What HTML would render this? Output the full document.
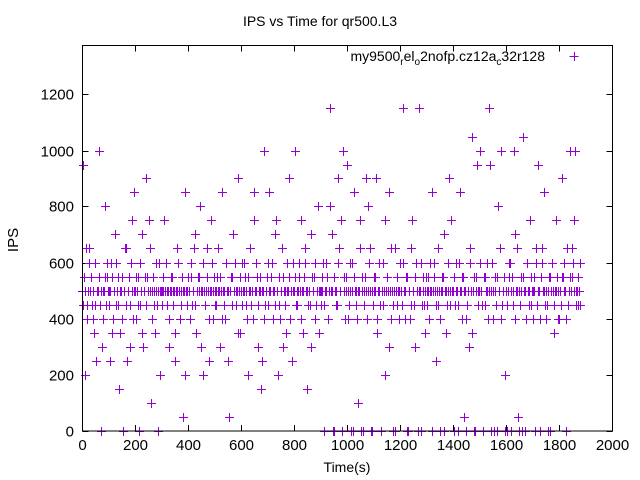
<!DOCTYPE html>
<html><head><meta charset="utf-8"><style>
body{margin:0;background:#fff;}
svg{display:block;font-family:"Liberation Sans",sans-serif;}
</style></head><body>
<svg id="chart" width="640" height="480" viewBox="0 0 640 480" xmlns="http://www.w3.org/2000/svg">
<rect x="0" y="0" width="640" height="480" fill="#fff"/>
<text x="320" y="26" text-anchor="middle" font-size="14" fill="#000">IPS vs Time for qr500.L3</text>
<text x="0" y="0" transform="translate(18,240) rotate(-90)" text-anchor="middle" font-size="15" fill="#000">IPS</text>
<text x="347" y="472" text-anchor="middle" font-size="14" fill="#000">Time(s)</text>
<g id="axes"></g>
<g id="points"></g>
<g>
<text x="545" y="61" text-anchor="end" font-size="14" fill="#000">my9500<tspan font-size="10" dy="4">r</tspan><tspan dy="-4">el</tspan><tspan font-size="10" dy="4">o</tspan><tspan dy="-4">2nofp.cz12a</tspan><tspan font-size="10" dy="4">c</tspan><tspan dy="-4">32r128</tspan></text>
<path d="M569.5 56.5H578.5M574.5 52V61" stroke="#9400d3" stroke-width="1" shape-rendering="crispEdges"/>
</g>
<rect x="82.5" y="45.5" width="530" height="385.5" fill="none" stroke="#000" stroke-width="1"/>
</svg>
<script>
const xTicks = [0,200,400,600,800,1000,1200,1400,1600,1800,2000];
const yTicks = [0,200,400,600,800,1000,1200];
const timeStep = 5;
const ips = [
500,950,200,650,450,600,500,550,400,350,450,500,500,1000,0,300,500,800,450,550,
500,250,600,350,500,700,450,550,150,500,400,0,500,650,250,500,450,600,750,850,
500,400,550,0,450,700,300,500,900,550,500,650,100,500,450,350,500,0,600,500,
500,500,750,500,450,500,300,500,550,500,250,500,650,500,400,500,50,500,850,500,
550,500,600,450,500,700,350,500,550,800,500,200,500,450,650,500,250,500,600,400,
500,450,550,500,300,500,850,500,400,600,500,50,500,550,700,500,450,500,900,350,
500,600,500,550,450,200,500,650,500,400,750,500,550,300,500,150,500,1000,450,500,
600,850,500,550,400,500,700,500,200,450,500,650,550,500,350,500,900,400,500,600,
500,1000,450,500,550,750,500,350,600,500,150,500,450,700,500,550,400,500,800,500,
450,500,600,0,500,550,400,1150,500,700,0,500,450,900,650,500,0,1000,550,500,
950,400,500,0,600,850,500,450,100,500,750,550,0,500,900,400,500,650,0,500,
550,500,900,350,500,450,0,600,500,200,550,500,850,400,500,0,650,500,450,500,
600,500,1150,500,400,550,0,500,450,750,500,300,600,500,1150,500,0,550,450,500,
500,550,400,500,850,500,600,250,500,450,0,500,550,700,500,350,500,900,450,500,
500,0,600,500,450,850,500,550,50,500,400,500,300,650,1050,500,0,550,950,500,
1000,500,450,0,550,500,600,1150,950,500,400,0,500,550,800,500,1000,450,500,200,
500,0,550,600,500,450,1000,700,500,50,500,550,0,1050,500,400,600,500,750,450,
500,550,0,650,950,500,400,600,500,850,500,450,0,550,500,600,350,500,750,500,
400,500,900,550,500,0,650,450,1000,500,550,750,1000,500,450,500,600
];
const ipsOffset = [
450,550,500,400,500,650,550,450,500,600,250,500,550,450,500,400,500,550,600,500,
450,500,550,400,500,600,500,450,350,500,550,500,650,450,500,550,300,500,400,500,
550,500,450,600,500,350,500,550,450,500,750,500,400,550,500,600,450,500,200,500,
450,550,500,600,500,400,500,550,450,500,350,500,600,500,450,550,500,200,500,450,
500,400,550,500,650,450,500,550,500,300,500,600,450,500,550,400,500,750,500,550,
450,500,650,500,550,400,500,450,600,500,250,500,550,450,500,600,500,350,500,550,
450,500,600,500,400,550,500,450,500,850,500,600,450,500,550,250,500,400,500,550,
450,500,550,600,500,450,750,500,550,400,500,300,500,450,600,500,550,500,250,500,
550,450,500,600,500,400,500,550,650,500,450,500,300,550,500,600,450,500,350,500,
500,550,450,500,600,400,500,800,500,0,550,500,450,600,500,750,0,500,400,550,
500,450,600,500,0,550,500,400,500,650,0,500,450,550,500,800,600,500,0,450,
500,550,400,500,600,0,500,450,750,500,550,300,500,650,450,500,0,550,500,400,
500,450,600,500,550,0,500,400,650,500,450,550,500,0,500,600,450,500,350,550,
450,500,600,500,0,550,500,450,650,500,400,500,550,0,500,450,600,500,750,500,
550,450,500,0,600,500,400,550,500,0,450,500,600,500,350,550,0,500,450,500,
600,500,0,550,450,500,400,500,0,600,500,550,450,0,500,650,400,500,550,0,
450,500,600,0,550,500,400,500,650,0,450,500,550,500,0,600,500,450,550,500,
400,500,600,450,500,0,550,650,500,450,400,500,550,0,600,500,450,500,550,400,
500,450,550,600,500,400,450,500,550,650,600,500,450,500,550,450
];
const NS='http://www.w3.org/2000/svg';
const X0=82.5,X1=612.5,Y0=431,YPER=56/200;
function sx(v){return X0+(X1-X0)*v/2000;}
function sy(v){return Y0-v*YPER;}
const axes=document.getElementById('axes');
xTicks.forEach(function(t){
  const x=Math.round(sx(t)-0.5)+0.5;
  const l=document.createElementNS(NS,'path');
  l.setAttribute('d','M'+x+' 431V425M'+x+' 45.5V51.5');
  l.setAttribute('stroke','#000');
  
  
  axes.appendChild(l);
  const tx=document.createElementNS(NS,'text');
  tx.setAttribute('x',x);tx.setAttribute('y',450);
  tx.setAttribute('text-anchor','middle');tx.setAttribute('font-size','15');
  tx.textContent=t;
  
  
  axes.appendChild(tx);
});
yTicks.forEach(function(t){
  const y=Math.round(sy(t)-0.5)+0.5;
  const l=document.createElementNS(NS,'path');
  l.setAttribute('d','M82.5 '+y+'H88.5M612.5 '+y+'H606.5');
  l.setAttribute('stroke','#000');
  
  
  axes.appendChild(l);
  const tx=document.createElementNS(NS,'text');
  tx.setAttribute('x',74);tx.setAttribute('y',y+5);
  tx.setAttribute('text-anchor','end');tx.setAttribute('font-size','15');
  tx.textContent=t;
  
  
  axes.appendChild(tx);
});
const pts=document.getElementById('points');
let d='';
function addPoint(t,v){
  const x=Math.round(sx(t)-0.5)+0.5,y=Math.round(sy(v)-0.5)+0.5;
  d+='M'+(x-4.5)+' '+y+'H'+(x+4.5)+'M'+x+' '+(y-4.5)+'V'+(y+4.5);
}
ips.forEach(function(v,i){addPoint(i*timeStep,v);});
ipsOffset.forEach(function(v,i){addPoint(i*timeStep+timeStep/2,v);});
const p=document.createElementNS(NS,'path');
p.setAttribute('d',d);
p.setAttribute('stroke','#9400d3');
p.setAttribute('stroke-width','1');
p.setAttribute('fill','none');
p.setAttribute('shape-rendering','crispEdges');


pts.appendChild(p);
</script>
</body></html>
